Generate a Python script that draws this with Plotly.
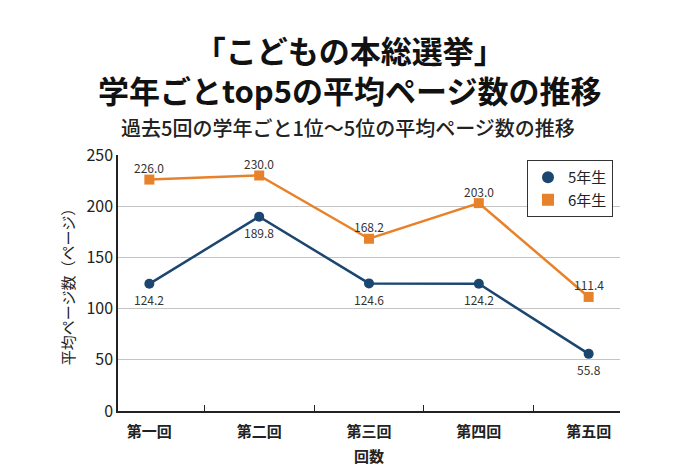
import plotly.graph_objects as go

categories = ["第一回", "第二回", "第三回", "第四回", "第五回"]
grade5 = [124.2, 189.8, 124.6, 124.2, 55.8]
grade6 = [226.0, 230.0, 168.2, 203.0, 111.4]
series_names = ["5年生", "6年生"]
title_line1 = "「こどもの本総選挙」"
title_line2 = "学年ごとtop5の平均ページ数の推移"
subtitle = "過去5回の学年ごと1位〜5位の平均ページ数の推移"
y_title = "平均ページ数（ページ）"
x_title = "回数"

FONT = "Noto Sans CJK JP, Noto Sans, sans-serif"
OFF = 8  # page body margin
WIN_W, WIN_H = 688, 474
W, H = WIN_W - 2 * OFF, WIN_H - 2 * OFF
# plot area in window pixels
PX0, PX1, PY0, PY1 = 118, 620, 155, 411
L, T = PX0 - OFF, PY0 - OFF
R, B = W - (PX1 - OFF), H - (PY1 - OFF)
PW, PH = W - L - R, H - T - B

def px_x(p):
    return (p - PX0) / PW

def px_y(p):
    return (PY1 - p) / PH

C5, C6 = "#1b4670", "#e8822a"

fig = go.Figure()
fig.add_trace(go.Scatter(
    x=categories, y=grade5, mode="lines", showlegend=False, hoverinfo="skip",
    line=dict(color=C5, width=2.5),
))
fig.add_trace(go.Scatter(
    x=categories, y=grade6, mode="lines", showlegend=False, hoverinfo="skip",
    line=dict(color=C6, width=2.5),
))
fig.add_trace(go.Scatter(
    x=categories, y=grade5, name=series_names[0], mode="markers",
    marker=dict(symbol="circle", size=10, color=C5),
))
fig.add_trace(go.Scatter(
    x=categories, y=grade6, name=series_names[1], mode="markers",
    marker=dict(symbol="square", size=10, color=C6),
))

label_font = dict(size=12, color="#333333", family=FONT)
for c, v in zip(categories, grade5):
    fig.add_annotation(x=c, y=v, xref="x", yref="y", text=f"{v:.1f}",
                       showarrow=False, yshift=-16, yanchor="middle",
                       font=label_font)
for c, v in zip(categories, grade6):
    fig.add_annotation(x=c, y=v, xref="x", yref="y", text=f"{v:.1f}",
                       showarrow=False, yshift=12, yanchor="middle",
                       font=label_font)

fig.add_annotation(text=f"<b>{title_line1}<br>{title_line2}</b>", xref="paper", yref="paper",
                   x=px_x(350), y=px_y(69), xanchor="center", yanchor="middle",
                   showarrow=False, font=dict(size=31, color="#111111", family=FONT))
fig.add_annotation(text=subtitle, xref="paper", yref="paper",
                   x=px_x(348), y=px_y(127), xanchor="center", yanchor="middle",
                   showarrow=False, font=dict(size=20, color="#222222", family=FONT, weight=500))

fig.update_layout(
    width=W, height=H,
    margin=dict(l=L, r=R, t=T, b=B, autoexpand=False),
    paper_bgcolor="white",
    plot_bgcolor="white",
    font=dict(family=FONT, color="#222222"),
    showlegend=True,
    legend=dict(
        x=px_x(613), y=px_y(160), xanchor="right", yanchor="top",
        bgcolor="white", bordercolor="#333333", borderwidth=1,
        font=dict(size=15, color="#222222", family=FONT),
        tracegroupgap=0, itemsizing="constant", itemwidth=30,
    ),
    xaxis=dict(
        type="category", tickson="boundaries", ticks="inside", ticklen=6,
        tickcolor="#222222", tickwidth=1.2, ticklabelstandoff=6,
        showline=True, linecolor="#222222", linewidth=1.5,
        showgrid=False, zeroline=False,
        tickfont=dict(size=15, color="#222222", family=FONT, weight=600),
        title=dict(text=x_title, standoff=12,
                   font=dict(size=15, color="#222222", family=FONT, weight=600)),
    ),
    yaxis=dict(
        range=[0, 250], dtick=50, tick0=0,
        showline=True, linecolor="#222222", linewidth=1.5,
        showgrid=True, gridcolor="#c4c4c4", gridwidth=1,
        zeroline=False, ticks="",
        tickfont=dict(size=16, color="#222222", family=FONT),
        title=dict(text=y_title, standoff=8,
                   font=dict(size=15, color="#222222", family=FONT)),
    ),
)

fig.write_html("out.html")
